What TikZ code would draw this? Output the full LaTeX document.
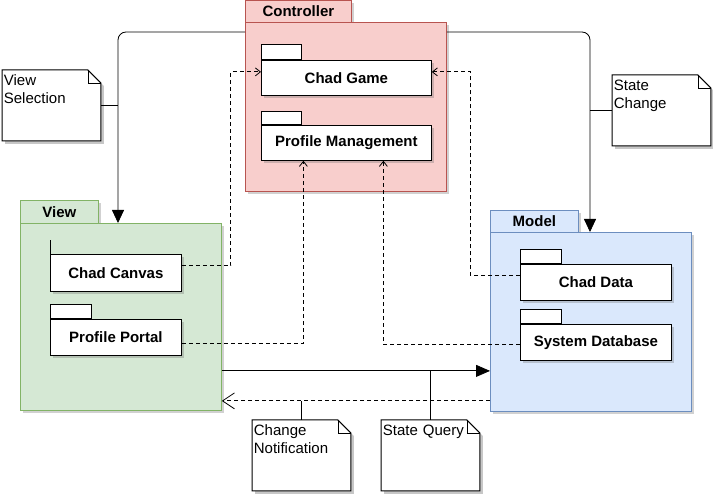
\documentclass[tikz,border=0pt]{standalone}
\usepackage{fontspec}
\setmainfont{Liberation Sans}
\usetikzlibrary{arrows.meta,calc,shadows,backgrounds}

\definecolor{ctrlfill}{HTML}{F8CECC}
\definecolor{ctrlline}{HTML}{B85450}
\definecolor{viewfill}{HTML}{D5E8D4}
\definecolor{viewline}{HTML}{82B366}
\definecolor{modelfill}{HTML}{DAE8FC}
\definecolor{modelline}{HTML}{6C8EBF}

\tikzset{
  boxshadow/.style={drop shadow={shadow xshift=3pt,shadow yshift=-3pt,opacity=.3,fill=black!60}},
  pkgtab/.style={draw,anchor=north west,inner sep=0pt,font=\fontsize{15}{18}\selectfont\bfseries,boxshadow},
  pkgbody/.style={draw,anchor=north west,inner sep=0pt,boxshadow},
  partbox/.style={draw,fill=white,anchor=north west,inner sep=0pt,font=\fontsize{15}{18}\selectfont\bfseries,boxshadow},
  parttab/.style={draw,fill=white,anchor=south west,minimum width=40pt,minimum height=14pt,inner sep=0pt},
  note/.style={anchor=north west,inner xsep=1.5pt,inner ysep=4pt,text width=95pt,text height=11pt,text depth=51pt,align=left,font=\fontsize{15}{18}\selectfont},
  link/.style={dash pattern=on 4pt off 3pt},
  flow/.style={rounded corners=8pt,-{Triangle[length=13pt,width=12pt]}},
}

\begin{document}
\begin{tikzpicture}[x=1pt,y=-1pt,line width=0.8pt]
\useasboundingbox (0,0) rectangle (713,494);

% packages
\node[pkgtab,fill=ctrlfill,draw=ctrlline,minimum width=106pt,minimum height=22pt] (ctrltab) at (245,0) {Controller};
\node[pkgbody,fill=ctrlfill,draw=ctrlline,minimum width=201pt,minimum height=169pt] (ctrl) at (245,22) {};
\node[pkgtab,fill=viewfill,draw=viewline,minimum width=78pt,minimum height=23pt] (viewtab) at (20,200) {View};
\node[pkgbody,fill=viewfill,draw=viewline,minimum width=201pt,minimum height=187pt] (view) at (20,223) {};
\node[pkgtab,fill=modelfill,draw=modelline,minimum width=88pt,minimum height=22pt] (modeltab) at (490,210) {Model};
\node[pkgbody,fill=modelfill,draw=modelline,minimum width=201pt,minimum height=179pt] (model) at (490,232) {};

% parts
\node[partbox,minimum width=170pt,minimum height=35pt] (game) at (261,60) {Chad Game};
\node[partbox,minimum width=170pt,minimum height=35pt] (prof) at (261,125) {Profile Management};
\node[partbox,minimum width=131pt,minimum height=37pt] (canvas) at (50,254) {Chad Canvas};
\node[partbox,minimum width=131pt,minimum height=36pt] (portal) at (50,319) {Profile Portal};
\node[partbox,minimum width=151pt,minimum height=36pt] (data) at (520,264) {Chad Data};
\node[partbox,minimum width=151pt,minimum height=36pt] (sysdb) at (520,324) {System Database};
\node[parttab,minimum height=15pt] (gametab) at (game.north west) {};
\node[parttab,minimum height=13pt] (proftab) at (prof.north west) {};
\node[parttab,minimum width=41pt] (portaltab) at (portal.north west) {};
\node[parttab,minimum width=41pt] (datatab) at (data.north west) {};
\node[parttab,minimum width=41pt] (sysdbtab) at (sysdb.north west) {};
\draw (canvas.north west) -- ++(0,-14);

% notes
\node[note] (vsel) at (2,70) {View\\Selection};
\node[note] (schg) at (612,75) {State\\Change};
\node[note] (cnot) at (252,420) {Change\\Notification};
\node[note] (sqry) at (381,420) {State Query};
\begin{scope}[on background layer]
\foreach \n in {vsel,schg,cnot,sqry}{
  \fill[black!22] ([shift={(3pt,-3pt)}]\n.south west) -- ([shift={(3pt,-3pt)}]\n.north west)
    -- ([shift={(-10pt,-3pt)}]\n.north east) -- ([shift={(3pt,-16pt)}]\n.north east)
    -- ([shift={(3pt,-3pt)}]\n.south east) -- cycle;
  \draw[fill=white,line width=1pt] (\n.south west) -- (\n.north west) -- ([xshift=-13pt]\n.north east)
    -- ([yshift=-13pt]\n.north east) -- (\n.south east) -- cycle;
  \draw ([xshift=-13pt]\n.north east) -- ([xshift=-13pt,yshift=-13pt]\n.north east) -- ([yshift=-13pt]\n.north east);
}
\end{scope}

\coordinate (vtip) at ($(view.north west)+(98,0)$);
\coordinate (mtip) at ($(model.north west)+(100,0)$);
\coordinate (fwdy) at ([yshift=-54pt]view.east);
\coordinate (backy) at ([yshift=-84pt]view.east);

% controller to view / model
\draw[flow] ($(ctrl.north west)+(0,10)$) -| (vtip);
\draw[flow] ($(ctrl.north east)+(0,10)$) -| (mtip);
\draw (vsel.east) -- (vsel.east -| vtip);
\draw (schg.west) -- (schg.west -| mtip);

% dependencies
\draw[link,-{Straight Barb[length=5pt,width=8pt]}] ([yshift=7pt]canvas.east) -- ++(49,0) |- ([yshift=6pt]game.west);
\draw[link,-{Straight Barb[length=5pt,width=8pt]}] ([yshift=-6pt]portal.east) -| ([xshift=-43pt]prof.south);
\draw[link,-{Straight Barb[length=5pt,width=8pt]}] ([yshift=7pt]data.west) -- ++(-50,0) |- ([yshift=6pt]game.east);
\draw[link,-{Straight Barb[length=5pt,width=8pt]}] ([yshift=-2pt]sysdb.west) -| ([xshift=37pt]prof.south);

% view and model
\draw[-{Triangle[length=14pt,width=12pt]}] (fwdy) -- (fwdy -| model.west);
\draw[link,-{Straight Barb[length=12pt,width=16pt]}] (backy -| model.west) -- (backy);
\draw (cnot.north) -- (cnot.north |- backy);
\draw (sqry.north) -- (sqry.north |- fwdy);
\end{tikzpicture}
\end{document}
